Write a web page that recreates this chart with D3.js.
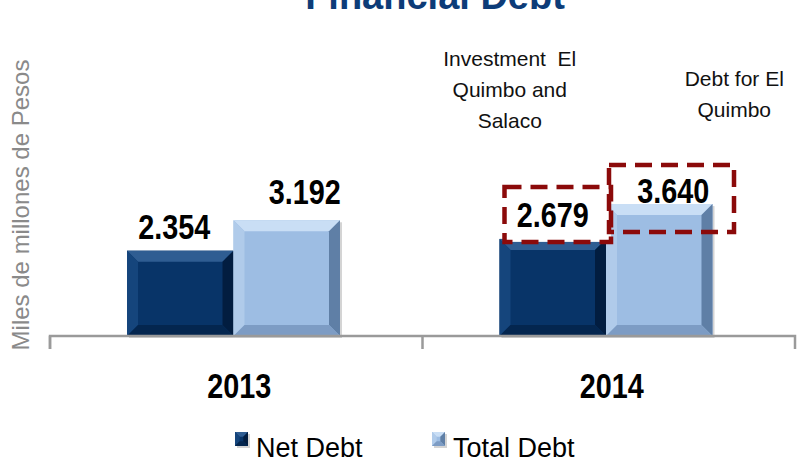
<!DOCTYPE html>
<html>
<head>
<meta charset="utf-8">
<script src="https://cdn.jsdelivr.net/npm/d3@7"></script>
<style>
  body { margin: 0; background: #fff; }
  svg { display: block; }
</style>
</head>
<body>
<div id="chart"></div>
<script>
(function () {
  const years = ['2013', '2014'];
  const series = ['Net Debt', 'Total Debt'];
  const netDebt = [2354, 2679];
  const totalDebt = [3192, 3640];
  const notes = [
    { year: '2014', series: 'Net Debt', lines: ['Investment  El', 'Quimbo and', 'Salaco'] },
    { year: '2014', series: 'Total Debt', lines: ['Debt for El', 'Quimbo'] }
  ];

  const width = 807,
    height = 458;

  const regular = '"Liberation Sans", Arial, sans-serif';
  const squeeze = 0.8; // fake Arial Narrow

  const colors = {
    'Net Debt': { base: '#083468', top: '#2f5d92', left: '#15457c', right: '#021d40', bottom: '#04264f' },
    'Total Debt': { base: '#9dbde3', top: '#c9def5', left: '#b0cbea', right: '#5f7fa6', bottom: '#7d9cc4' }
  };

  const rows = [];
  years.forEach((y, i) => {
    rows.push({ year: y, series: 'Net Debt', value: netDebt[i] });
    rows.push({ year: y, series: 'Total Debt', value: totalDebt[i] });
  });

  const fmt = d3.formatLocale({ decimal: ',', thousands: '.', grouping: [3], currency: ['$', ''] }).format(',d');

  const xScale = d3.scaleBand().domain(years).range([50, 795]);
  const x1 = d3.scaleBand().domain(series).range([77, 290]);
  const yScale = d3.scaleLinear().domain([0, 4000]).range([336, 191]);
  const bw = x1.bandwidth();

  const svg = d3.select('#chart')
    .append('svg')
    .attr('width', width)
    .attr('height', height);

  // title (cut off at the top, like the slide)
  svg.append('text')
    .attr('x', 435)
    .attr('y', 9)
    .attr('text-anchor', 'middle')
    .style('font-family', regular)
    .style('font-weight', 'bold')
    .style('font-size', '38px')
    .style('fill', '#0d3c78')
    .text('Financial Debt');

  // y axis title
  svg.append('text')
    .attr('transform', 'translate(29,205) rotate(-90)')
    .attr('text-anchor', 'middle')
    .style('font-family', regular)
    .style('font-size', '24px')
    .style('fill', '#8a8a8a')
    .text('Miles de millones de Pesos');

  function bevelBar(g, x, y, w, h, c) {
    const b = Math.min(11, h / 3);
    g.append('rect').attr('x', x + 2).attr('y', y + 2).attr('width', w).attr('height', h)
      .attr('fill', '#b8b8b8').attr('opacity', 0.6);
    g.append('rect').attr('x', x).attr('y', y).attr('width', w).attr('height', h).attr('fill', c.base);
    const pts = (arr) => arr.map((p) => p.join(',')).join(' ');
    g.append('polygon').attr('fill', c.top)
      .attr('points', pts([[x, y], [x + w, y], [x + w - b, y + b], [x + b, y + b]]));
    g.append('polygon').attr('fill', c.left)
      .attr('points', pts([[x, y], [x + b, y + b], [x + b, y + h - b], [x, y + h]]));
    g.append('polygon').attr('fill', c.right)
      .attr('points', pts([[x + w, y], [x + w, y + h], [x + w - b, y + h - b], [x + w - b, y + b]]));
    g.append('polygon').attr('fill', c.bottom)
      .attr('points', pts([[x, y + h], [x + b, y + h - b], [x + w - b, y + h - b], [x + w, y + h]]));
  }

  function narrowText(sel, x, y) {
    sel.attr('transform', `translate(${x},${y}) scale(${squeeze},1)`)
      .attr('text-anchor', 'middle')
      .style('font-family', regular)
      .style('font-weight', 'bold')
      .style('font-size', '36px')
      .style('fill', '#000');
  }

  const barsG = svg.append('g');
  rows.forEach((d) => {
    const x = xScale(d.year) + x1(d.series);
    const y = yScale(d.value);
    bevelBar(barsG, x, y, bw, yScale(0) - y, colors[d.series]);
  });

  // axis line and ticks
  const axis = d3.axisBottom(xScale).tickSize(13).tickFormat('');
  const axisG = svg.append('g')
    .attr('transform', `translate(0,${yScale(0)})`)
    .call(axis);
  axisG.select('.domain').attr('d', 'M50,13V0H795V13').attr('stroke', '#9a9a9a').attr('stroke-width', 2.5);
  axisG.selectAll('.tick line').attr('stroke', '#9a9a9a').attr('stroke-width', 2.5)
    .attr('transform', `translate(${-xScale.bandwidth() / 2},0)`);

  // year labels
  years.forEach((yr) => {
    svg.append('text')
      .attr('class', 'year-label')
      .call(narrowText, xScale(yr) + xScale.bandwidth() / 2 + 3, 398)
      .text(yr);
  });

  // highlight boxes
  const netBar = rows.find((d) => d.year === '2014' && d.series === 'Net Debt');
  const totBar = rows.find((d) => d.year === '2014' && d.series === 'Total Debt');
  const nx = xScale('2014') + x1('Net Debt');
  const tx = xScale('2014') + x1('Total Debt');

  svg.append('rect')
    .attr('x', nx + 5).attr('y', yScale(netBar.value) - 52)
    .attr('width', bw).attr('height', 55)
    .attr('fill', '#fff')
    .attr('stroke', '#8b0a0a').attr('stroke-width', 4.5)
    .attr('stroke-dasharray', '17,9');

  svg.append('rect')
    .attr('x', tx + 3).attr('y', yScale(totBar.value) - 39)
    .attr('width', 125).attr('height', 67)
    .attr('fill', 'none')
    .attr('stroke', '#8b0a0a').attr('stroke-width', 4.5)
    .attr('stroke-dasharray', '17,9');

  // value labels
  const nudge = { '2013|Total Debt': [18, -4], '2013|Net Debt': [-6, 0], '2014|Total Debt': [14, 11] };
  rows.forEach((d) => {
    const n = nudge[d.year + '|' + d.series] || [0, 0];
    svg.append('text')
      .attr('class', 'value-label')
      .call(narrowText, xScale(d.year) + x1(d.series) + bw / 2 + n[0], yScale(d.value) - 12 + n[1])
      .text(fmt(d.value));
  });

  // annotations
  const noteShift = { 'Net Debt': [-43, 66], 'Total Debt': [75, 86] };
  notes.forEach((n) => {
    const cx = xScale(n.year) + x1(n.series) + bw / 2 + noteShift[n.series][0];
    const t = svg.append('text')
      .attr('text-anchor', 'middle')
      .attr('xml:space', 'preserve')
      .style('white-space', 'pre')
      .style('font-family', regular)
      .style('font-size', '21px')
      .style('fill', '#111');
    n.lines.forEach((line, i) => {
      t.append('tspan')
        .attr('x', cx)
        .attr('y', noteShift[n.series][1] + i * 31)
        .text(line);
    });
  });

  // legend
  const legend = svg.append('g').attr('transform', 'translate(235,432)');
  series.forEach((s, i) => {
    const g = legend.append('g').attr('transform', `translate(${i * 197},0)`);
    bevelBar(g, 0, 0, 13, 14, colors[s]);
    g.append('text')
      .attr('x', 21)
      .attr('y', 25)
      .style('font-family', regular)
      .style('font-size', '27px')
      .text(s);
  });
})();
</script>
</body>
</html>
